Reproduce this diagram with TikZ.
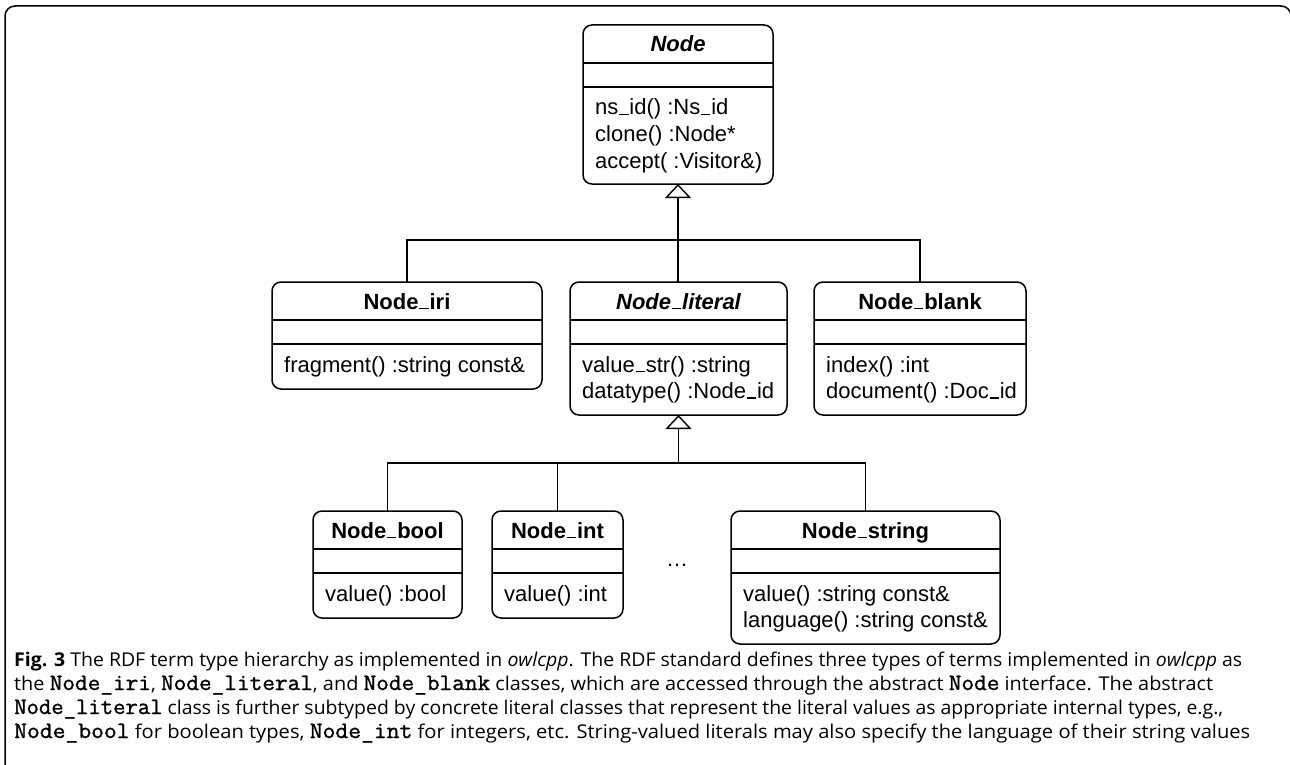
\documentclass[tikz,border=0pt]{standalone}
\usepackage{graphicx}
\usepackage{fontspec}
\setmainfont{Liberation Sans}
\newfontfamily\capfont{Open Sans}
\newfontfamily\capmono[FakeBold=1.2]{Latin Modern Mono}
\usetikzlibrary{arrows.meta,calc}
\newcommand\us{\leavevmode\kern.04em\vbox{\hrule width.42em height .06em}\kern.04em}
\newcommand\cm[1]{{\capmono\fontsize{23.5}{24}\selectfont #1}}
\newcommand\capline[2]{\resizebox{#1pt}{\height}{#2}}
\newcommand\umlbox[6]{%
  \node[cls, minimum width=#4pt, minimum height=#5pt] (#1) at (#2,#3) {};
  \draw[div] ($(#1.north west)+(0,38)$) -- ($(#1.north east)+(0,38)$);
  \draw[div] ($(#1.north west)+(0,62)$) -- ($(#1.north east)+(0,62)$);
  \node[ttl] (#1-t) at ($(#1.north)+(0,27)$) {#6};
}
\begin{document}
\begin{tikzpicture}[x=1pt,y=-1pt,
  cls/.style={draw, line width=1.5pt, rounded corners=9pt, anchor=north west, inner sep=0pt, outer sep=0pt},
  ttl/.style={anchor=base, font=\fontsize{22}{26.5}\selectfont\bfseries, inner sep=0pt},
  mth/.style={anchor=base west, font=\fontsize{22}{26.5}\selectfont, inner sep=0pt},
  div/.style={line width=1.5pt},
  con/.style={line width=1.7pt},
  gen/.style={con, -{Triangle[open, length=14pt, width=26pt, line width=1.4pt]}},
  captxt/.style={anchor=base west, inner sep=0pt, font=\capfont\fontsize{19}{24}\selectfont}
]
\fill[white] (0,0) rectangle (1290,765);
\useasboundingbox (0,0) rectangle (1290,765);
\draw[line width=1.5pt, rounded corners=10pt] (5,790) -- (5,6) -- (1291,6) -- (1291,790);

% classes
\umlbox{node}{583}{25}{190}{159}{\itshape Node}
\node[mth] (node-m1) at ($(node.north west)+(12,90)$) {ns\us id() :Ns\us id};
\node[mth] (node-m2) at ($(node.north west)+(12,116.5)$) {clone() :Node*};
\node[mth] (node-m3) at ($(node.north west)+(12,143)$) {accept( :Visitor\&)};

\umlbox{iri}{272}{282}{270}{107}{Node\us iri}
\node[mth] (iri-m1) at ($(iri.north west)+(12,90)$) {fragment() :string const\&};

\umlbox{lit}{570}{282}{217}{133}{\itshape Node\us literal}
\node[mth] (lit-m1) at ($(lit.north west)+(12,90)$) {value\us str() :string};
\node[mth] (lit-m2) at ($(lit.north west)+(12,116.5)$) {datatype() :Node\us id};

\umlbox{blank}{814}{282}{212}{133}{Node\us blank}
\node[mth] (blank-m1) at ($(blank.north west)+(12,90)$) {index() :int};
\node[mth] (blank-m2) at ($(blank.north west)+(12,116.5)$) {document() :Doc\us id};

\umlbox{bool}{313}{511}{149}{107}{Node\us bool}
\node[mth] (bool-m1) at ($(bool.north west)+(12,90)$) {value() :bool};

\umlbox{int}{492}{511}{131}{107}{Node\us int}
\node[mth] (int-m1) at ($(int.north west)+(12,90)$) {value() :int};

\umlbox{str}{731}{511}{269}{133}{Node\us string}
\node[mth] (str-m1) at ($(str.north west)+(12,90)$) {value() :string const\&};
\node[mth] (str-m2) at ($(str.north west)+(12,116.5)$) {language() :string const\&};

\node[mth, anchor=base] (dots) at (677,566) {\ldots};

% connectors
\coordinate (bar1) at (678,240);
\draw[con] (iri.north) -- (iri.north |- bar1) -| (blank.north);
\draw[gen] (lit.north -| node.south) -- (node.south);
\coordinate (bar2) at (678.5,463);
\draw[con] (bool.north) -- (bool.north |- bar2) -| (str.north);
\draw[con] (int.north) -- (int.north |- bar2);
\draw[gen] (bar2) -- (lit.south);

% caption
\node[captxt] (c1) at (14,666) {\capline{1228}{\textbf{Fig. 3} The RDF term type hierarchy as implemented in \textit{owlcpp}. The RDF standard defines three types of terms implemented in \textit{owlcpp} as}};
\node[captxt] (c2) at (14,690) {\capline{1199}{the \cm{Node\_iri}, \cm{Node\_literal}, and \cm{Node\_blank} classes, which are accessed through the abstract \cm{Node} interface. The abstract}};
\node[captxt] (c3) at (14,714) {\capline{1209}{\cm{Node\_literal} class is further subtyped by concrete literal classes that represent the literal values as appropriate internal types, e.g.,}};
\node[captxt] (c4) at (14,738) {\capline{1236}{\cm{Node\_bool} for boolean types, \cm{Node\_int} for integers, etc. String-valued literals may also specify the language of their string values}};
\end{tikzpicture}
\end{document}
